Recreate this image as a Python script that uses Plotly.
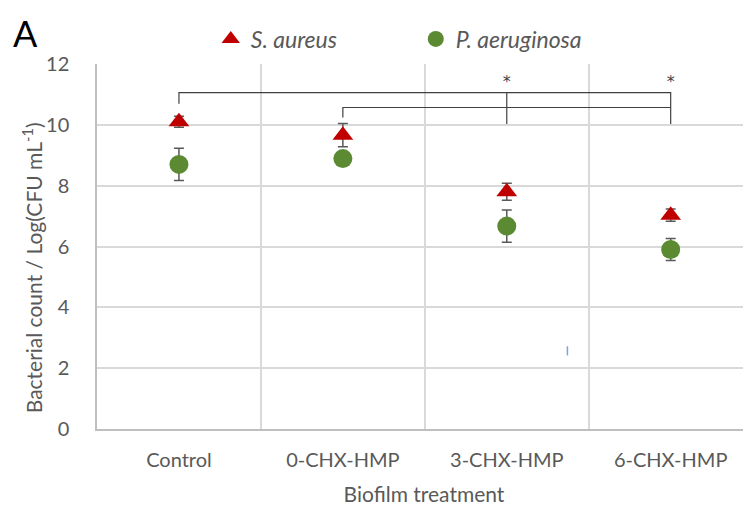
import plotly.graph_objects as go

categories = ["Control", "0-CHX-HMP", "3-CHX-HMP", "6-CHX-HMP"]
s_aureus = [10.10, 9.66, 7.80, 7.03]
s_aureus_err = [0.18, 0.38, 0.28, 0.2]
p_aeruginosa = [8.70, 8.89, 6.67, 5.90]
p_aeruginosa_err = [0.53, 0.2, 0.53, 0.36]
yticks = [0, 2, 4, 6, 8, 10, 12]

# significance brackets (category, value)
outer_x = ["Control", "Control", "6-CHX-HMP", "6-CHX-HMP"]
outer_y = [10.69, 11.06, 11.06, 10.03]
mid_x = ["3-CHX-HMP", "3-CHX-HMP"]
mid_y = [11.06, 10.03]
inner_x = ["0-CHX-HMP", "0-CHX-HMP", "6-CHX-HMP"]
inner_y = [10.24, 10.57, 10.57]
star_x = ["3-CHX-HMP", "6-CHX-HMP"]
star_y = [11.38, 11.38]

FONT = "Lato"
GREY = "#595959"

fig = go.Figure()

fig.add_trace(go.Scatter(
    x=categories, y=s_aureus, mode="markers", name="<i>S. aureus</i>",
    marker=dict(symbol="triangle-up", size=18, color="#c00000"),
    error_y=dict(type="data", array=s_aureus_err, color=GREY, thickness=1.5, width=5),
))
fig.add_trace(go.Scatter(
    x=categories, y=p_aeruginosa, mode="markers", name="<i>P. aeruginosa</i>",
    marker=dict(symbol="circle", size=19, color="#5b8a32"),
    error_y=dict(type="data", array=p_aeruginosa_err, color=GREY, thickness=1.5, width=5),
))

for xs, ys in [(outer_x, outer_y), (mid_x, mid_y), (inner_x, inner_y)]:
    fig.add_trace(go.Scatter(x=xs, y=ys, mode="lines", showlegend=False,
                             line=dict(color="#404040", width=1.2), hoverinfo="skip"))

fig.add_trace(go.Scatter(x=star_x, y=star_y, mode="text", text=["*", "*"], showlegend=False,
                         textfont=dict(family="DejaVu Sans", size=16, color="#404040"),
                         hoverinfo="skip"))

# small stray mark present in the original image
fig.add_shape(type="line", xref="x", yref="y", x0=2.37, x1=2.37, y0=2.42, y1=2.72,
              line=dict(color="#7aa6d8", width=1.5))

fig.add_annotation(text="A", xref="paper", yref="paper", x=-0.1315, y=1.15,
                   xanchor="left", yanchor="top", showarrow=False,
                   font=dict(family=FONT, size=36, color="black"))

# y-axis title (placed as in the original, slightly below the axis centre)
fig.add_annotation(text="Bacterial count / Log(CFU mL<sup>-1</sup>)", xref="paper", yref="paper",
                   x=-0.1, y=0.442, xanchor="center", yanchor="middle", textangle=-90,
                   showarrow=False, font=dict(family=FONT, size=21, color=GREY))

fig.update_layout(
    width=751, height=516,
    margin=dict(l=89, r=8, t=56, b=95, autoexpand=False),
    paper_bgcolor="white", plot_bgcolor="white",
    font=dict(family=FONT, color=GREY, size=19),
    showlegend=True,
    legend=dict(orientation="h", xref="container", yref="container", x=0.27, y=0.94,
                xanchor="left", yanchor="middle",
                font=dict(family=FONT, size=23, color=GREY), entrywidth=160,
                bgcolor="rgba(0,0,0,0)"),
    xaxis=dict(type="category", categoryorder="array", categoryarray=categories,
               range=[-0.5, 3.49], tickson="boundaries", showgrid=True,
               gridcolor="#d9d9d9", gridwidth=1.5, ticks="", ticklabelstandoff=12,
               tickfont=dict(family=FONT, size=20, color=GREY),
               showline=True, linecolor="#bfbfbf", linewidth=1.5,
               title=dict(text="Biofilm treatment", font=dict(family=FONT, size=21, color=GREY),
                          standoff=18)),
    yaxis=dict(range=[0, 12], tickvals=yticks, showgrid=True, gridcolor="#d9d9d9", gridwidth=1.5,
               zeroline=False, showline=True, linecolor="#bfbfbf", linewidth=1.5,
               ticks="", ticklabelstandoff=22,
               tickfont=dict(family=FONT, size=20, color=GREY)),
)

fig.write_html("out.html")
